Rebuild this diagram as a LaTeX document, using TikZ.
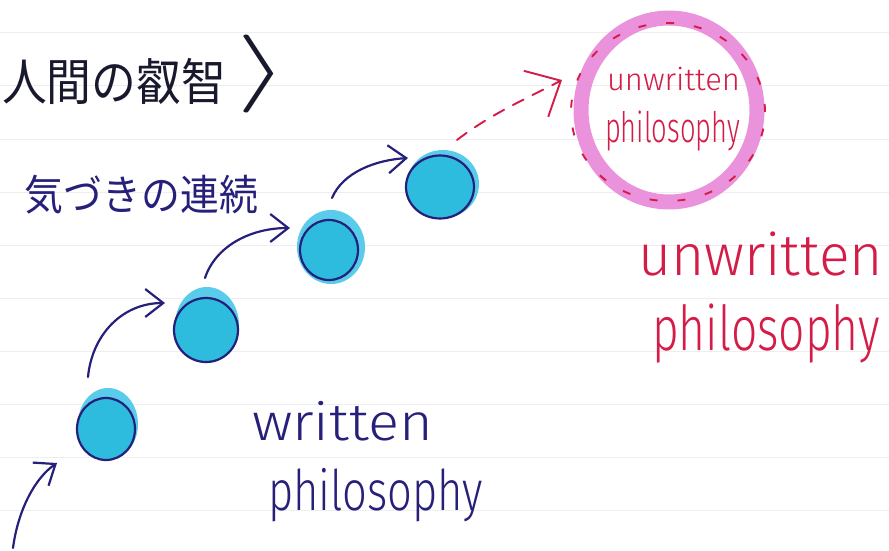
\RequirePackage{fix-cm}
\documentclass[tikz,border=0pt]{standalone}
\usepackage{fontspec}
\usepackage{graphicx}
\usetikzlibrary{arrows.meta,shapes.geometric}
\setmainfont{Fira Sans}
\newfontfamily\hand{Fira Sans Light}
\newfontfamily\jp{Noto Sans CJK JP}
\definecolor{navy}{RGB}{38,32,122}
\definecolor{ink}{RGB}{25,25,45}
\definecolor{dotfill}{RGB}{45,188,222}
\definecolor{dothalo}{RGB}{88,204,234}
\definecolor{redink}{RGB}{212,28,72}
\definecolor{pinkring}{RGB}{232,128,216}
\definecolor{paperline}{RGB}{238,238,241}
\newcommand{\fitto}[2]{\resizebox{#1}{\height}{#2}}
\begin{document}
\begin{tikzpicture}[x=1pt,y=-1pt,
  txt/.style={anchor=base west, inner sep=0pt, outer sep=0pt},
  halo/.style={ellipse, fill=dothalo, draw=none, inner sep=0pt},
  dotring/.style={ellipse, draw=navy, line width=2.2pt, fill=dotfill, inner sep=0pt},
  flow/.style={draw=navy, line width=2.2pt, line cap=round, -{Straight Barb[length=18pt,width=28pt]}},
  hope/.style={draw=redink, line width=1.9pt, line cap=round, dash pattern=on 12pt off 10pt, -{Straight Barb[length=28pt,width=52pt]}}
]
\useasboundingbox (0,0) rectangle (889,551);
\fill[white] (0,0) rectangle (889,551);
% notebook ruling
\foreach \yy in {33,86,139,192,245,298,351,404,457,510}
  \draw[paperline, line width=1pt] (0,\yy) -- (889,\yy);

% title
\node[txt, text=ink, font=\jp\fontsize{50}{50}\selectfont] (title) at (2,100) {\fitto{224pt}{人間の叡智}};
\node[anchor=center, inner sep=0pt, text=ink, font=\fontsize{78}{78}\selectfont] (close) at (262,74) {\fitto{52pt}{$\rangle$}};

% sub heading
\node[txt, text=navy, font=\jp\fontsize{42}{42}\selectfont] (steps) at (25,210) {\fitto{233pt}{気づきの連続}};

% dots
\node[halo, minimum width=60pt, minimum height=72pt] (h1) at (108,424) {};
\node[dotring, minimum width=58pt, minimum height=62pt] (d1) at (106,429) {};
\node[halo, minimum width=64pt, minimum height=76pt] (h2) at (207,325) {};
\node[dotring, minimum width=64pt, minimum height=64pt] (d2) at (206,330) {};
\node[halo, minimum width=68pt, minimum height=74pt] (h3) at (331,247) {};
\node[dotring, minimum width=58pt, minimum height=60pt] (d3) at (329,250) {};
\node[halo, minimum width=72pt, minimum height=68pt] (h4) at (443,184) {};
\node[dotring, minimum width=68pt, minimum height=63pt] (d4) at (440,187) {};

% arrows
\coordinate (s0) at (13,548);  \coordinate (t0) at (57,463);
\coordinate (s1) at (88,377);  \coordinate (t1) at (165,303);
\coordinate (s2) at (205,278); \coordinate (t2) at (290,228);
\coordinate (s3) at (332,198); \coordinate (t3) at (408,158);
\coordinate (s4) at (457,140); \coordinate (t4) at (562,80);
\draw[flow] (s0) .. controls (18,510) and (35,478) .. (t0);
\draw[flow] (s1) .. controls (92,335) and (122,303) .. (t1);
\draw[flow] (s2) .. controls (216,245) and (252,228) .. (t2);
\draw[flow] (s3) .. controls (343,172) and (376,160) .. (t3);
\draw[hope] (s4) .. controls (492,113) and (530,97) .. (t4);

% goal circle
\node[ellipse, draw=pinkring, line width=15pt, draw opacity=0.85, minimum width=176pt, minimum height=184pt, inner sep=0pt] (goal) at (669,110) {};
\node[ellipse, draw=redink, line width=1.9pt, dash pattern=on 8pt off 20pt, minimum width=194pt, minimum height=178pt, inner sep=0pt] (goalrim) at (668,112) {};
\node[txt, text=redink, font=\hand\fontsize{31}{31}\selectfont] (gw) at (607,90) {\fitto{133pt}{unwritten}};
\node[txt, text=redink, font=\hand\fontsize{42}{42}\selectfont] (gp) at (605,142) {\fitto{135pt}{philosophy}};

% big labels
\node[txt, text=redink, font=\hand\fontsize{58}{58}\selectfont] (uw) at (638,275) {\fitto{245pt}{unwritten}};
\node[txt, text=redink, font=\hand\fontsize{62}{62}\selectfont] (up) at (652,350) {\fitto{228pt}{philosophy}};
\node[txt, text=navy, font=\hand\fontsize{52}{52}\selectfont] (ww) at (252,440) {\fitto{181pt}{written}};
\node[txt, text=navy, font=\hand\fontsize{56}{56}\selectfont] (wp) at (268,510) {\fitto{215pt}{philosophy}};
\end{tikzpicture}
\end{document}
